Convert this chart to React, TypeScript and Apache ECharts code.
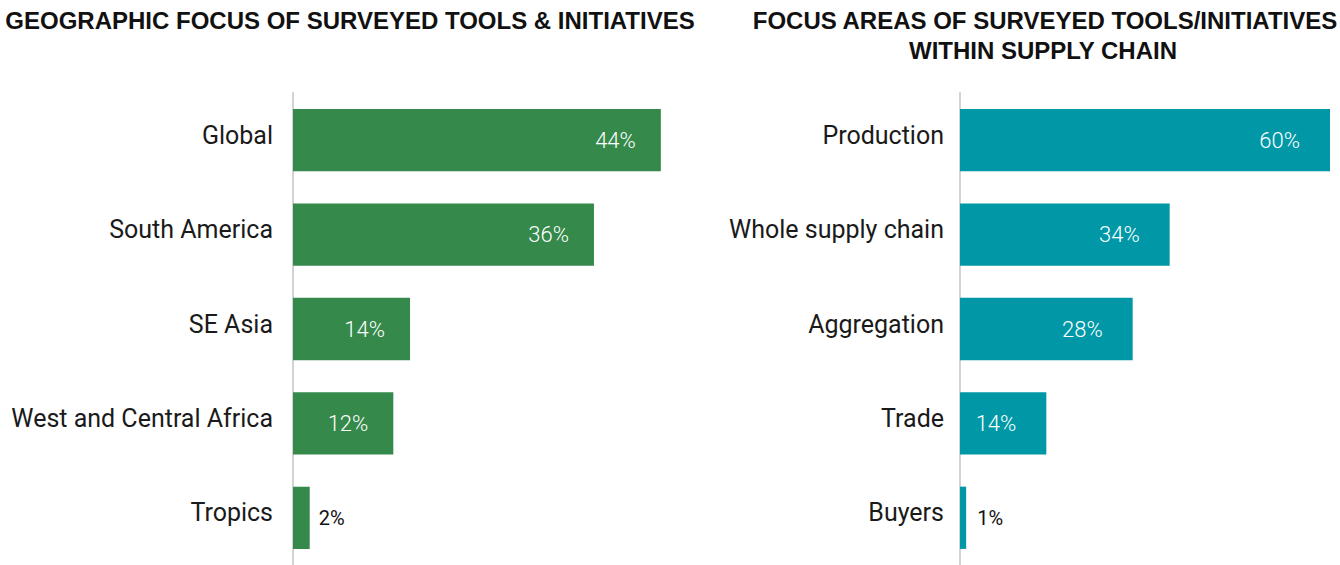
import React, { useEffect, useRef } from "react";
import * as echarts from "echarts";

const geoCategories = ["Global", "South America", "SE Asia", "West and Central Africa", "Tropics"];
const geoValues = [44, 36, 14, 12, 2];
const supplyCategories = ["Production", "Whole supply chain", "Aggregation", "Trade", "Buyers"];
const supplyValues = [60, 34, 28, 14, 1];
const leftTitle = "GEOGRAPHIC FOCUS OF SURVEYED TOOLS & INITIATIVES";
const rightTitleLines = ["FOCUS AREAS OF SURVEYED TOOLS/INITIATIVES", "WITHIN SUPPLY CHAIN"];

const GREEN = "#35894b";
const TEAL = "#0098a6";
const FONT = "Roboto";
const TITLE_FONT = "'Liberation Sans', Arial, sans-serif";

function buildData(values: number[], outsideDist: number) {
  return values.map((v) =>
    v < 5
      ? {
          value: v,
          label: {
            show: true,
            position: "right",
            distance: outsideDist,
            color: "#111",
            fontSize: 20,
            fontWeight: 400,
            fontFamily: FONT,
            formatter: "{c}%",
          },
        }
      : { value: v }
  );
}

export default function App() {
  const ref = useRef<HTMLDivElement>(null);
  useEffect(() => {
    if (!ref.current) return;
    const chart = echarts.init(ref.current, null, { renderer: "svg" });
    const catAxis = (idx: number, data: string[], margin: number) => ({
      type: "category",
      gridIndex: idx,
      data,
      inverse: true,
      axisLine: { show: true, lineStyle: { color: "#d3d3d3", width: 2 } },
      axisTick: { show: false },
      axisLabel: {
        color: "#1a1a1a",
        fontSize: 25,
        fontFamily: FONT,
        margin,
        verticalAlign: "bottom",
        lineHeight: 10,
      },
    });
    const valAxis = (idx: number, max: number) => ({
      type: "value",
      gridIndex: idx,
      min: 0,
      max,
      show: false,
      splitLine: { show: false },
    });
    const insideLabel = (distance: number) => ({
      show: true,
      position: "insideRight",
      distance,
      color: "#ffffff",
      fontSize: 22,
      fontFamily: FONT,
      fontWeight: 300,
      formatter: "{c}%",
    });
    const titleText = (text: string, x: number, y: number) => ({
      type: "text",
      x,
      y,
      style: {
        text,
        font: `bold 24px ${TITLE_FONT}`,
        fill: "#111111",
        align: "center",
        verticalAlign: "middle",
      },
    });
    chart.setOption({
      animation: false,
      textStyle: { fontFamily: FONT },
      graphic: [
        titleText(leftTitle, 350, 20),
        titleText(rightTitleLines[0], 1045, 20),
        titleText(rightTitleLines[1], 1043, 50),
      ],
      grid: [
        { left: 293, top: 93, width: 418, height: 473 },
        { left: 960, top: 93, width: 370, height: 473 },
      ],
      yAxis: [catAxis(0, geoCategories, 20), catAxis(1, supplyCategories, 16)],
      xAxis: [valAxis(0, 50), valAxis(1, 60)],
      series: [
        {
          type: "bar",
          xAxisIndex: 0,
          yAxisIndex: 0,
          data: buildData(geoValues, 9),
          barCategoryGap: "34%",
          itemStyle: { color: GREEN },
          label: insideLabel(25),
        },
        {
          type: "bar",
          xAxisIndex: 1,
          yAxisIndex: 1,
          data: buildData(supplyValues, 11),
          barCategoryGap: "34%",
          itemStyle: { color: TEAL },
          label: insideLabel(30),
        },
      ],
    });
    return () => chart.dispose();
  }, []);
  return (
    <div
      ref={ref}
      style={{ position: "fixed", left: 0, top: 0, width: 1340, height: 565, background: "#fff" }}
    />
  );
}
